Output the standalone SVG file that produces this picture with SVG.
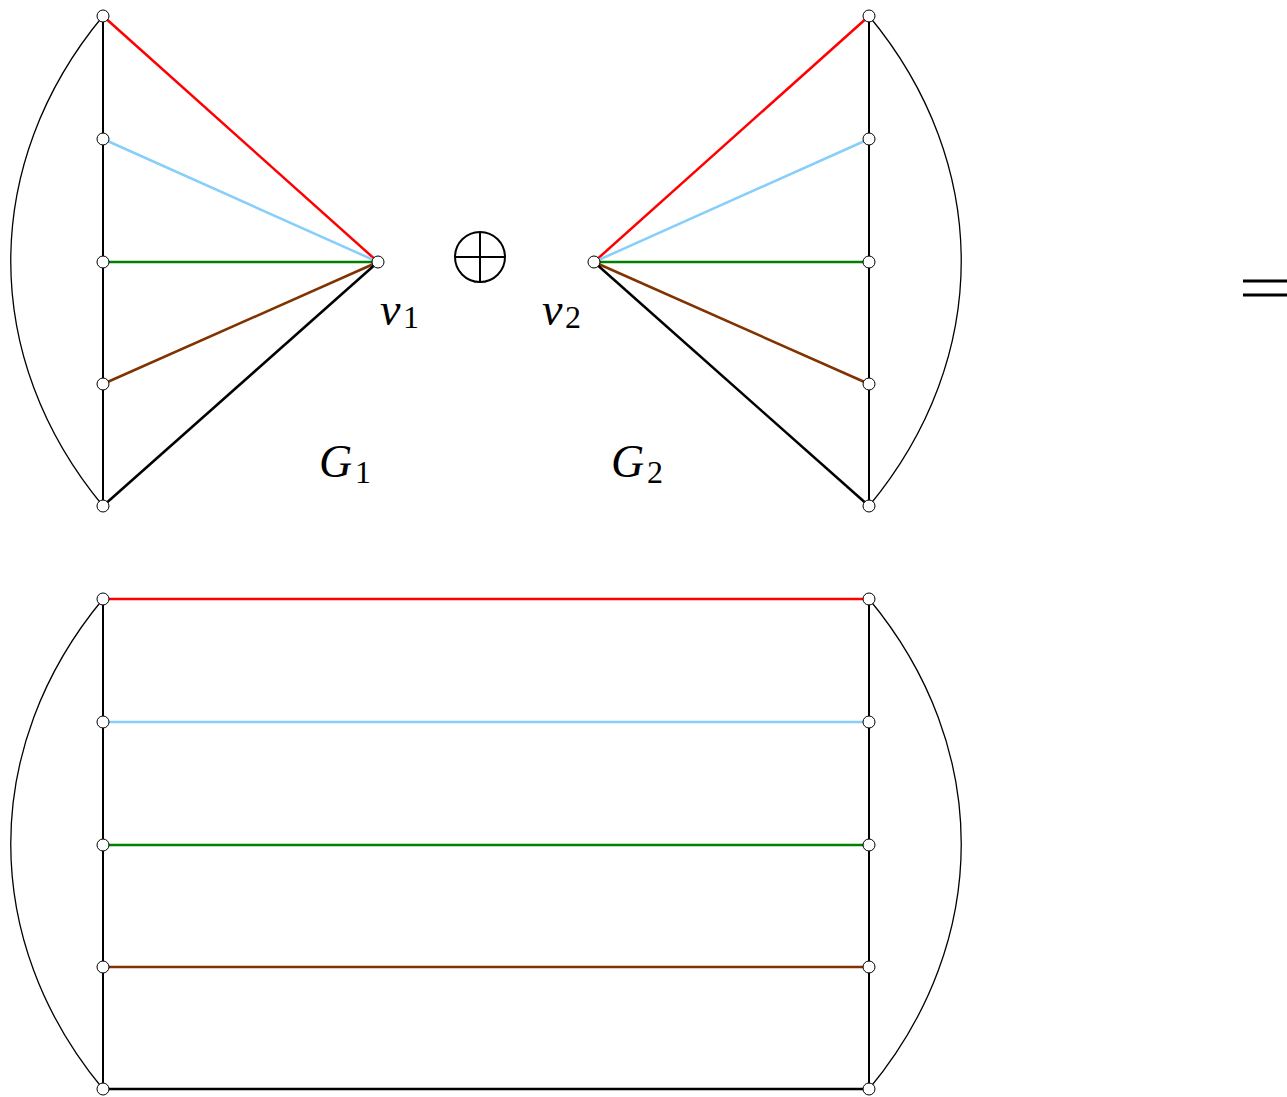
<svg xmlns="http://www.w3.org/2000/svg" width="1287" height="1097" viewBox="0 0 1287 1097">
<style>
.v{stroke:#000;stroke-width:2;fill:none}
.a{stroke:#000;stroke-width:1.3;fill:none}
.e{stroke-width:2.5;fill:none}
.r{stroke:#ff0000}.b{stroke:#87cefa}.g{stroke:#008000}.n{stroke:#803300}.k{stroke:#000}
.nd{fill:#fff;stroke:#000;stroke-width:1}
</style>
<rect width="1287" height="1097" fill="#fff"/>
<g id="connectors">
  <path class="a" d="M103,16 C-20,164 -20,358 103,506"/>
  <path class="a" d="M869,16 C992,164 992,358 869,506"/>
  <path class="v" d="M103,16 V506 M869,16 V506"/>
  <line class="e r" x1="103" y1="16" x2="378" y2="262"/>
  <line class="e b" x1="103" y1="139" x2="378" y2="262"/>
  <line class="e g" x1="103" y1="262" x2="378" y2="262"/>
  <line class="e n" x1="103" y1="384" x2="378" y2="262"/>
  <line class="e k" x1="103" y1="506" x2="378" y2="262"/>
  <line class="e r" x1="869" y1="16" x2="594" y2="262"/>
  <line class="e b" x1="869" y1="139" x2="594" y2="262"/>
  <line class="e g" x1="869" y1="262" x2="594" y2="262"/>
  <line class="e n" x1="869" y1="384" x2="594" y2="262"/>
  <line class="e k" x1="869" y1="506" x2="594" y2="262"/>
  <path class="a" d="M103,599 C-20,747 -20,941 103,1089"/>
  <path class="a" d="M869,599 C992,747 992,941 869,1089"/>
  <path class="v" d="M103,599 V1089 M869,599 V1089"/>
  <line class="e r" x1="103" y1="599" x2="869" y2="599"/>
  <line class="e b" x1="103" y1="722" x2="869" y2="722"/>
  <line class="e g" x1="103" y1="845" x2="869" y2="845"/>
  <line class="e n" x1="103" y1="967" x2="869" y2="967"/>
  <line class="e k" x1="103" y1="1089" x2="869" y2="1089"/>
</g>
<g id="nodes-top-left">
  <circle class="nd" cx="103" cy="16" r="6"/>
  <circle class="nd" cx="103" cy="139" r="6"/>
  <circle class="nd" cx="103" cy="262" r="6"/>
  <circle class="nd" cx="103" cy="384" r="6"/>
  <circle class="nd" cx="103" cy="506" r="6"/>
</g>
<g id="v1"><circle class="nd" cx="378" cy="262" r="6"/></g>
<g id="v2"><circle class="nd" cx="594" cy="262" r="6"/></g>
<g id="nodes-top-right">
  <circle class="nd" cx="869" cy="16" r="6"/>
  <circle class="nd" cx="869" cy="139" r="6"/>
  <circle class="nd" cx="869" cy="262" r="6"/>
  <circle class="nd" cx="869" cy="384" r="6"/>
  <circle class="nd" cx="869" cy="506" r="6"/>
</g>
<g id="nodes-bottom-left">
  <circle class="nd" cx="103" cy="599" r="6"/>
  <circle class="nd" cx="103" cy="722" r="6"/>
  <circle class="nd" cx="103" cy="845" r="6"/>
  <circle class="nd" cx="103" cy="967" r="6"/>
  <circle class="nd" cx="103" cy="1089" r="6"/>
</g>
<g id="nodes-bottom-right">
  <circle class="nd" cx="869" cy="599" r="6"/>
  <circle class="nd" cx="869" cy="722" r="6"/>
  <circle class="nd" cx="869" cy="845" r="6"/>
  <circle class="nd" cx="869" cy="967" r="6"/>
  <circle class="nd" cx="869" cy="1089" r="6"/>
</g>
<g id="oplus" fill="none" stroke="#000" stroke-width="2">
  <circle cx="480" cy="257" r="25"/>
  <path d="M455,257 H505 M480,232 V282"/>
</g>
<g id="equals" stroke="#000" stroke-width="3">
  <path d="M1243,281 H1287 M1243,295 H1287"/>
</g>
<g id="labels" font-family="'Liberation Serif', 'DejaVu Serif', serif" fill="#000">
  <text x="380" y="325" font-size="46" font-style="italic">v</text><text x="403" y="328" font-size="32">1</text>
  <text x="542" y="325" font-size="46" font-style="italic">v</text><text x="565" y="328" font-size="32">2</text>
  <text x="319" y="477" font-size="46" font-style="italic">G</text><text x="355" y="483" font-size="32">1</text>
  <text x="611" y="477" font-size="46" font-style="italic">G</text><text x="647" y="483" font-size="32">2</text>
</g>
</svg>
